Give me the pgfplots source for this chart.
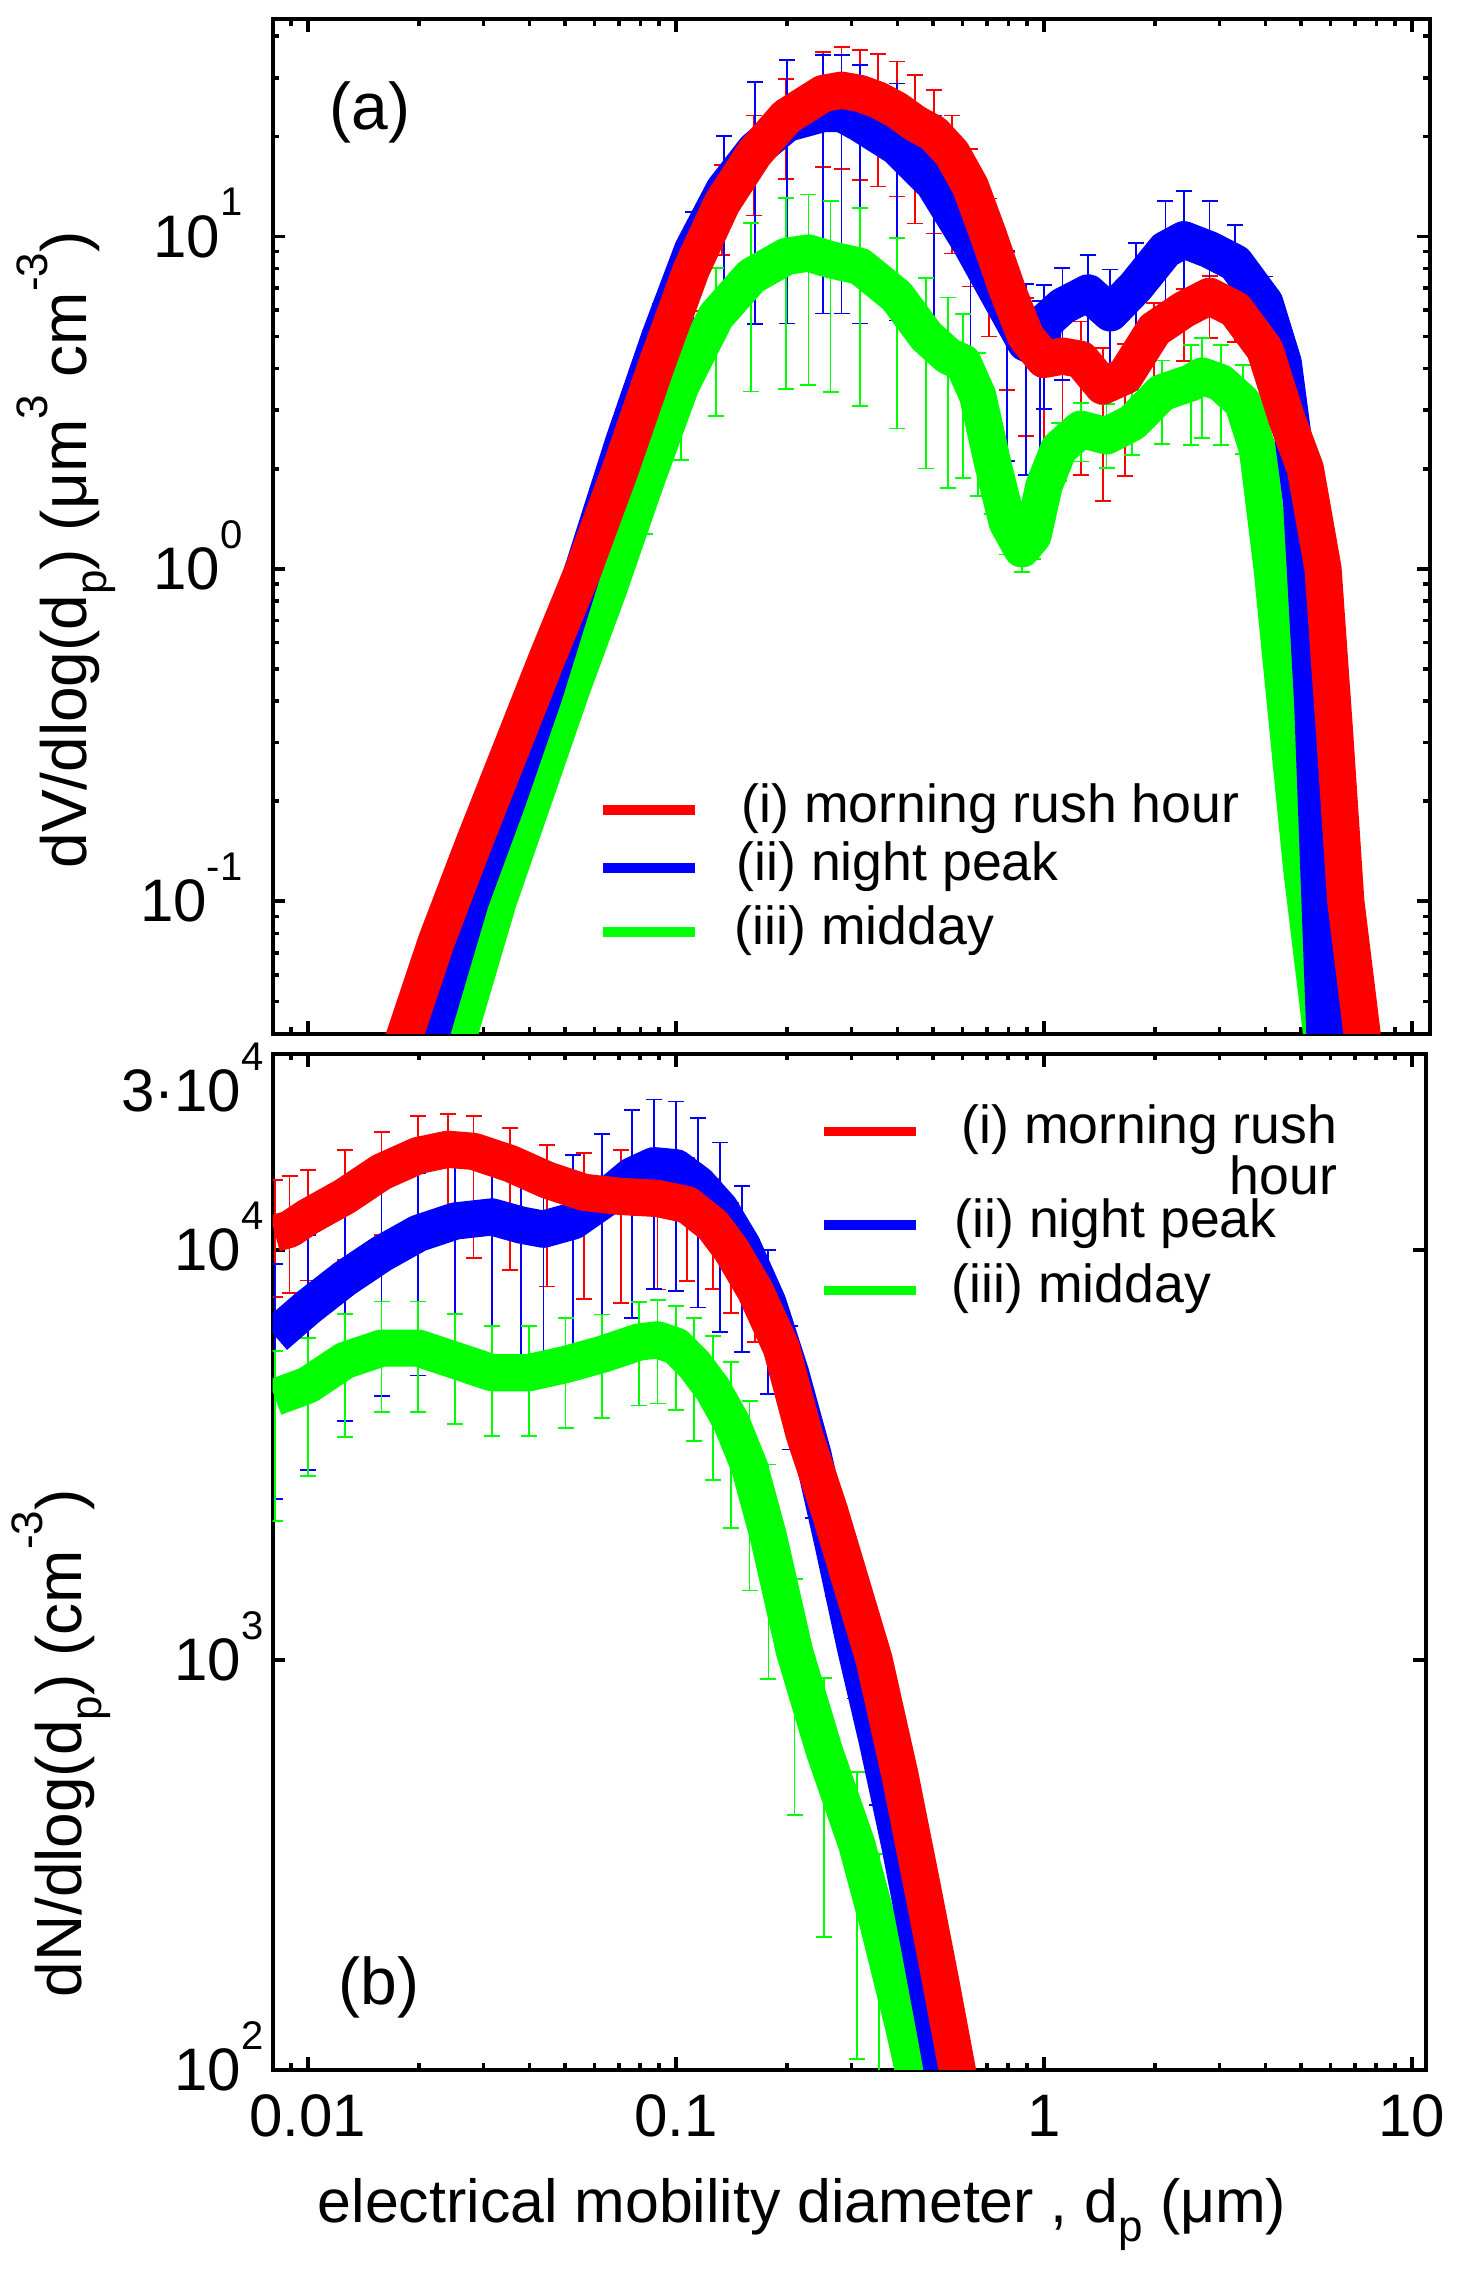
\documentclass[border=0pt]{standalone}
\usepackage{fontspec}
\setmainfont{Liberation Sans}
\usepackage{pgfplots}
\pgfplotsset{compat=1.18}
\usepackage{pgfplotstable}

\definecolor{cR}{RGB}{255,0,0}
\definecolor{cB}{RGB}{0,0,255}
\definecolor{cG}{RGB}{0,255,0}

\newcommand{\tsup}[1]{\raisebox{10.3pt}[0pt][0pt]{\fontsize{10}{10}\selectfont #1}}
\newcommand{\lsup}[1]{\raisebox{0.62em}{\fontsize{11}{11}\selectfont #1}}
\newcommand{\lsub}[1]{\raisebox{-0.3em}{\fontsize{11}{11}\selectfont #1}}

% ---------- panel (a): dV/dlog(dp) ----------
\pgfplotstableread{
x y ep em
0.01775 0.03548 0.05 0.05
0.02234 0.07586 0.05 0.05
0.02813 0.1479 0.06 0.06
0.03541 0.2818 0.08 0.08
0.04459 0.5370 0.10 0.10
0.05613 1.000 0.12 0.12
0.07067 1.995 0.15 0.15
0.08896 4.169 0.20 0.20
0.1100 7.943 0.25 0.25
0.1334 12.59 0.30 0.30
0.1633 17.78 0.30 0.35
0.1995 22.91 0.30 0.35
0.2512 26.92 0.33 0.40
0.2818 27.54 0.35 0.42
0.3162 26.92 0.35 0.45
0.3548 25.70 0.38 0.45
0.3981 23.99 0.40 0.45
0.4467 21.88 0.40 0.50
0.5012 20.42 0.35 0.50
0.5623 17.78 0.30 0.50
0.6310 14.13 0.30 0.50
0.7079 10.00 0.30 0.50
0.7943 6.918 0.30 0.50
0.8913 5.012 0.30 0.50
1.000 4.266 0.25 0.50
1.122 4.365 0.30 0.55
1.259 4.266 0.30 0.55
1.445 3.548 0.30 0.55
1.660 3.802 0.25 0.50
1.995 5.248 0.20 0.40
2.399 6.026 0.15 0.30
2.818 6.607 0.15 0.25
3.311 6.026 0.15 0.20
3.981 4.571 0.15 0.15
4.571 2.818 0.15 0.15
5.130 2.000 0.15 0.15
5.730 1.000 0.20 0.20
6.166 0.3162 0.25 0.20
6.607 0.1000 0.25 0.20
7.413 0.03548 0.25 0.20
}\aRed

\pgfplotstableread{
x y ep em
0.02096 0.03548 0.05 0.05
0.02763 0.1000 0.05 0.05
0.03478 0.1995 0.06 0.06
0.04379 0.4169 0.08 0.08
0.05600 1.000 0.12 0.12
0.07200 2.399 0.20 0.20
0.09050 5.012 0.25 0.30
0.1110 9.120 0.30 0.40
0.1350 13.80 0.45 0.60
0.1640 18.20 0.60 0.70
0.2000 21.88 0.55 0.75
0.2512 23.44 0.50 0.75
0.2818 23.44 0.50 0.75
0.3162 21.88 0.50 0.75
0.3981 18.62 0.55 0.70
0.5012 14.45 0.60 0.70
0.6310 9.550 0.60 0.70
0.7943 6.026 0.50 0.65
0.8913 4.786 0.50 0.60
0.9772 4.571 0.40 0.60
1.000 5.495 0.30 0.45
1.122 6.166 0.30 0.40
1.318 6.761 0.30 0.40
1.514 5.888 0.35 0.40
1.778 7.079 0.35 0.40
2.138 9.120 0.40 0.40
2.399 9.772 0.40 0.40
2.818 9.120 0.40 0.35
3.311 8.318 0.30 0.30
3.981 6.310 0.20 0.25
4.467 4.169 0.20 0.20
5.012 1.585 0.20 0.30
5.370 0.3981 0.30 0.80
5.821 0.03548 0.30 0.50
}\aBlue

\pgfplotstableread{
x y ep em
0.02495 0.03548 0.05 0.05
0.03288 0.1000 0.06 0.06
0.04140 0.2089 0.08 0.08
0.05212 0.4365 0.10 0.10
0.06562 0.8710 0.15 0.15
0.08261 1.820 0.25 0.30
0.1030 3.548 0.30 0.40
0.1284 5.754 0.40 0.50
0.1601 7.586 0.45 0.55
0.1995 8.710 0.50 0.60
0.2291 8.913 0.50 0.60
0.2630 8.511 0.50 0.60
0.3162 8.128 0.50 0.62
0.3981 6.607 0.50 0.60
0.4786 5.012 0.50 0.60
0.5495 4.365 0.50 0.60
0.6026 4.169 0.40 0.55
0.6607 3.311 0.35 0.50
0.7244 2.089 0.30 0.30
0.7943 1.380 0.20 0.20
0.8710 1.148 0.15 0.15
0.9333 1.259 0.15 0.15
1.000 1.778 0.20 0.20
1.096 2.291 0.20 0.20
1.259 2.630 0.20 0.20
1.479 2.512 0.25 0.20
1.738 2.754 0.25 0.20
2.089 3.388 0.25 0.30
2.512 3.631 0.30 0.35
2.692 3.802 0.30 0.35
3.020 3.631 0.30 0.35
3.467 3.162 0.30 0.30
3.802 2.291 0.20 0.20
4.169 1.000 0.20 0.20
4.571 0.3548 0.20 0.20
5.012 0.1259 0.30 0.30
5.754 0.03548 0.30 0.30
}\aGreen

% ---------- panel (b): dN/dlog(dp) ----------
\pgfplotstableread{
x y ep em
0.008128 10965 0.35 0.30
0.008913 11220 0.35 0.30
0.01000 12023 0.30 0.30
0.01259 13490 0.30 0.30
0.01585 15488 0.25 0.30
0.01995 16982 0.25 0.35
0.02399 17579 0.22 0.40
0.02818 17378 0.22 0.45
0.03548 16218 0.22 0.45
0.04467 14791 0.22 0.45
0.05623 13804 0.25 0.45
0.07079 13490 0.30 0.45
0.08913 13335 0.30 0.40
0.1072 12882 0.30 0.35
0.1259 11482 0.30 0.30
0.1413 10000 0.30 0.30
0.1643 7943 0.25 0.25
0.1935 5754 0.20 0.20
0.2231 3548 0.15 0.15
0.2621 2291 0.12 0.12
0.3079 1413 0.10 0.10
0.3455 1000 0.10 0.10
0.4059 524.8 0.10 0.10
0.4661 281.8 0.10 0.10
0.5229 166.0 0.10 0.10
0.5868 95.5 0.10 0.10
}\bRed

\pgfplotstableread{
x y ep em
0.008128 6166 0.50 0.60
0.01000 7244 0.50 0.60
0.01259 8511 0.45 0.55
0.01585 9772 0.45 0.55
0.01995 10965 0.40 0.55
0.02512 11749 0.40 0.55
0.03162 12023 0.40 0.55
0.03802 11482 0.40 0.55
0.04365 11220 0.40 0.55
0.05248 11749 0.45 0.55
0.06310 13183 0.45 0.55
0.07586 15136 0.45 0.55
0.08710 16032 0.45 0.50
0.1000 15849 0.45 0.50
0.1148 14454 0.45 0.50
0.1318 12589 0.45 0.50
0.1514 10233 0.40 0.45
0.1778 7413 0.35 0.40
0.2047 5012 0.30 0.35
0.2357 3162 0.25 0.30
0.2677 1905 0.20 0.25
0.3074 1072 0.20 0.25
0.3529 631.0 0.20 0.30
0.4053 354.8 0.20 0.30
0.4547 208.9 0.20 0.30
0.5102 120.2 0.20 0.30
0.5342 95.5 0.20 0.30
}\bBlue

\pgfplotstableread{
x y ep em
0.008128 4365 0.30 0.50
0.01000 4677 0.30 0.40
0.01259 5370 0.30 0.35
0.01585 5754 0.30 0.30
0.01995 5754 0.30 0.30
0.02512 5370 0.30 0.30
0.03162 5012 0.30 0.30
0.03981 5012 0.30 0.30
0.05012 5248 0.30 0.30
0.06310 5559 0.25 0.30
0.07943 5957 0.25 0.30
0.08913 6026 0.25 0.30
0.1000 5821 0.25 0.30
0.1122 5248 0.30 0.35
0.1259 4571 0.35 0.40
0.1413 3802 0.40 0.45
0.1585 2951 0.45 0.50
0.1784 1995 0.50 0.55
0.2100 1047 0.50 0.60
0.2525 602.6 0.50 0.65
0.3099 354.8 0.50 0.70
0.3558 223.9 0.50 0.75
0.4169 125.9 0.50 0.80
0.4467 95.5 0.50 0.80
}\bGreen

\pgfplotsset{
  ebR/.style={draw=none, mark=none, forget plot,
    error bars/y dir=both, error bars/y explicit relative,
    error bars/error mark=-,
    error bars/error bar style={draw=cR, line width=0.45pt, solid},
    error bars/error mark options={rotate=90, draw=cR, line width=0.45pt, mark size=2pt}},
  ebB/.style={draw=none, mark=none, forget plot,
    error bars/y dir=both, error bars/y explicit relative,
    error bars/error mark=-,
    error bars/error bar style={draw=cB, line width=0.45pt, solid},
    error bars/error mark options={rotate=90, draw=cB, line width=0.45pt, mark size=2pt}},
  ebG/.style={draw=none, mark=none, forget plot,
    error bars/y dir=both, error bars/y explicit relative,
    error bars/error mark=-,
    error bars/error bar style={draw=cG, line width=0.45pt, solid},
    error bars/error mark options={rotate=90, draw=cG, line width=0.45pt, mark size=2pt}},
}

\begin{document}
\begin{tikzpicture}
\useasboundingbox (0,0) rectangle (364.75pt,-572pt);

% ===== top panel =====
\begin{axis}[
  scale only axis, xmode=log, ymode=log,
  at={(68.175pt,-258.375pt)}, anchor=south west,
  width=289.25pt, height=253.55pt,
  xmin=0.00802, xmax=11.17, ymin=0.04, ymax=45,
  axis line style={line width=1pt},
  tick style={black, line width=0.9pt},
  major tick length=3.2pt, minor tick length=1.6pt,
  tick align=inside,
  xtick={0.01,0.1,1,10},
  minor xtick={0.009,0.02,0.03,0.04,0.05,0.06,0.07,0.08,0.09,0.2,0.3,0.4,0.5,0.6,0.7,0.8,0.9,2,3,4,5,6,7,8,9},
  xticklabels={},
  ytick={0.1,1,10},
  yticklabels={10\tsup{-1},10\tsup{0},10\tsup{1}},
  minor ytick={0.05,0.06,0.07,0.08,0.09,0.2,0.3,0.4,0.5,0.6,0.7,0.8,0.9,2,3,4,5,6,7,8,9,20,30,40},
  tick label style={font=\fontsize{15}{18}\selectfont},
  yticklabel style={xshift=-4pt},
  ylabel={dV/dlog(d\lsub{p}) (μm\lsup{3} cm\lsup{-3})},
  ylabel style={at={(axis description cs:-0.1605,0.4767)}, anchor=base, font=\fontsize{16}{19}\selectfont},
]
\addplot[ebR] table[x=x,y=y,y error plus=ep,y error minus=em] {\aRed};
\addplot[ebB] table[x=x,y=y,y error plus=ep,y error minus=em] {\aBlue};
\addplot[ebG] table[x=x,y=y,y error plus=ep,y error minus=em] {\aGreen};
\addplot[draw=cG, line width=9.3pt, line join=round, mark=none] table[x=x,y=y] {\aGreen};
\addplot[draw=cB, line width=9.3pt, line join=round, mark=none] table[x=x,y=y] {\aBlue};
\addplot[draw=cR, line width=9.3pt, line join=round, mark=none] table[x=x,y=y] {\aRed};
\node[font=\fontsize{16.5}{19}\selectfont] at (axis description cs:0.0841,0.9086) {(a)};
\end{axis}

% legend of panel (a)
\begin{scope}[font=\fontsize{13.4}{15.5}\selectfont]
\draw[cR, line width=2.3pt] (150.75pt,-202.5pt) -- (173.75pt,-202.5pt);
\draw[cB, line width=2.3pt] (150.75pt,-217pt) -- (173.75pt,-217pt);
\draw[cG, line width=2.3pt] (150.75pt,-233pt) -- (173.75pt,-233pt);
\node[anchor=base west, inner sep=0pt] at (185.25pt,-205.5pt) {(i) morning rush hour};
\node[anchor=base west, inner sep=0pt] at (184pt,-220pt) {(ii) night peak};
\node[anchor=base west, inner sep=0pt] at (183.5pt,-236pt) {(iii) midday};
\end{scope}

% ===== bottom panel =====
\begin{axis}[
  scale only axis, xmode=log, ymode=log,
  at={(68.175pt,-517.425pt)}, anchor=south west,
  width=288.25pt, height=253.9pt,
  xmin=0.00802, xmax=10.9, ymin=100, ymax=30000,
  axis line style={line width=1pt},
  tick style={black, line width=0.9pt},
  major tick length=3.2pt, minor tick length=1.6pt,
  tick align=inside,
  xtick={0.01,0.1,1,10},
  minor xtick={0.009,0.02,0.03,0.04,0.05,0.06,0.07,0.08,0.09,0.2,0.3,0.4,0.5,0.6,0.7,0.8,0.9,2,3,4,5,6,7,8,9},
  xticklabels={0.01,0.1,1,10},
  tick label style={font=\fontsize{15}{18}\selectfont},
  xticklabel style={yshift=-2.75pt},
  ytick={100,1000,10000,30000},
  yticklabels={10\tsup{2},10\tsup{3},10\tsup{4},\raisebox{-14.3pt}[0pt][0pt]{3·10\tsup{4}}},
  minor ytick={},
  yticklabel style={xshift=1.25pt},
  ylabel={dN/dlog(d\lsub{p}) (cm\lsup{-3})},
  ylabel style={at={(axis description cs:-0.1654,0.3212)}, anchor=base, font=\fontsize{16}{19}\selectfont},
  xlabel={electrical mobility diameter , d\lsub{p} (μm)},
  xlabel style={at={(axis description cs:0.4591,-0.1509)}, anchor=base, font=\fontsize{15.2}{18}\selectfont},
]
\addplot[ebR] table[x=x,y=y,y error plus=ep,y error minus=em] {\bRed};
\addplot[ebB] table[x=x,y=y,y error plus=ep,y error minus=em] {\bBlue};
\addplot[ebG] table[x=x,y=y,y error plus=ep,y error minus=em] {\bGreen};
\addplot[draw=cG, line width=9.3pt, line join=round, mark=none] table[x=x,y=y] {\bGreen};
\addplot[draw=cB, line width=9.3pt, line join=round, mark=none] table[x=x,y=y] {\bBlue};
\addplot[draw=cR, line width=9.3pt, line join=round, mark=none] table[x=x,y=y] {\bRed};
\node[font=\fontsize{16.5}{19}\selectfont] at (axis description cs:0.0922,0.0814) {(b)};
\end{axis}

% legend of panel (b)
\begin{scope}[font=\fontsize{13.4}{15.5}\selectfont]
\draw[cR, line width=2.3pt] (205.9pt,-282.9pt) -- (229.1pt,-282.9pt);
\draw[cB, line width=2.3pt] (205.9pt,-306.25pt) -- (229.1pt,-306.25pt);
\draw[cG, line width=2.3pt] (205.9pt,-322.65pt) -- (229.1pt,-322.65pt);
\node[anchor=base west, inner sep=0pt] (r1) at (240.25pt,-285.9pt) {(i) morning rush};
\node[anchor=base east, inner sep=0pt] at ([yshift=-12.75pt]r1.base east) {hour};
\node[anchor=base west, inner sep=0pt] at (238.5pt,-309.25pt) {(ii) night peak};
\node[anchor=base west, inner sep=0pt] at (237.75pt,-325.65pt) {(iii) midday};
\end{scope}
\end{tikzpicture}
\end{document}
